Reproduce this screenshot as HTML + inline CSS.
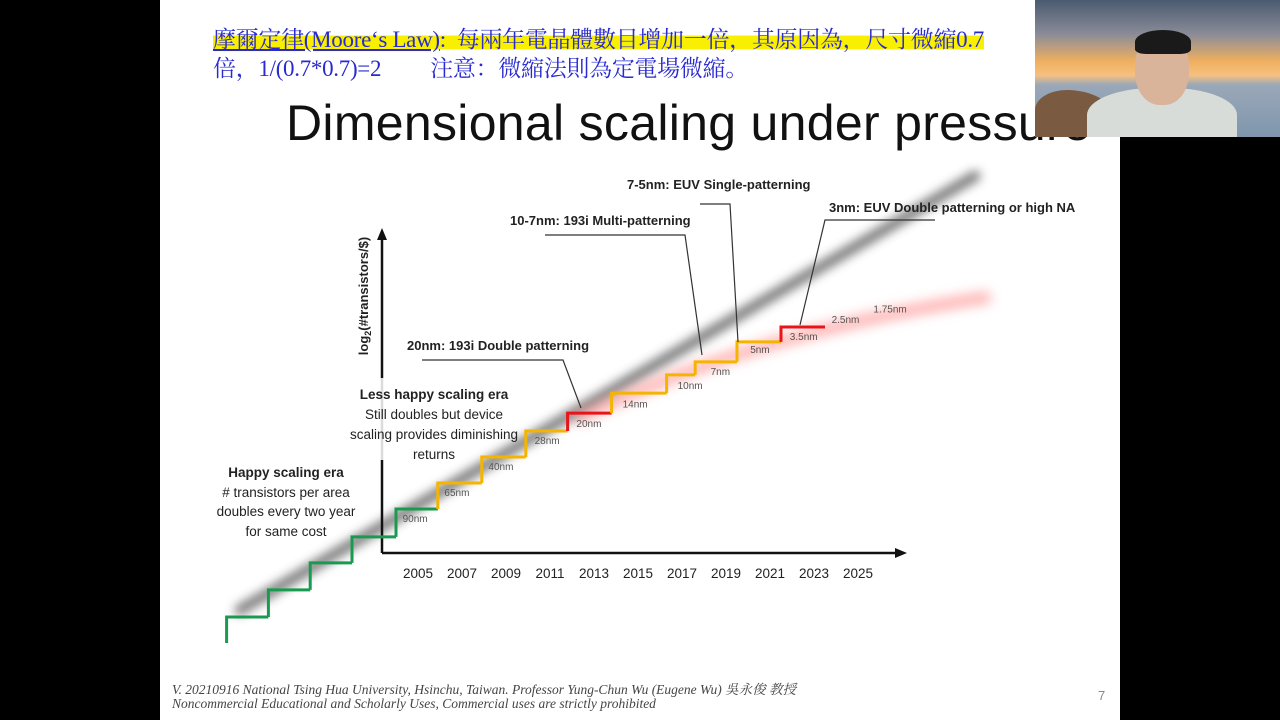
<!DOCTYPE html>
<html><head><meta charset="utf-8"><style>
body{margin:0;width:1280px;height:720px;background:#000;overflow:hidden;position:relative;font-family:"Liberation Sans",sans-serif}
#slide{position:absolute;left:160px;top:0;width:960px;height:720px;background:#fff}
.t{position:absolute;white-space:nowrap}
#top{left:213px;top:25px;font:23px "Liberation Serif","Noto Serif CJK SC","Noto Sans CJK TC",serif;color:#2a2ad0;line-height:29px;letter-spacing:-0.3px}
#title{left:286px;top:94px;font-size:50px;color:#111;letter-spacing:0.3px}
.foot{font:italic 13.5px "Liberation Serif","Noto Serif CJK SC",serif;color:#444;left:172px}
#cam{position:absolute;left:1035px;top:0;width:245px;height:137px;overflow:hidden;background:linear-gradient(#4a5a70 0%,#8a8c98 25%,#f0b060 45%,#f6c080 55%,#9aa8b8 62%,#7f96ad 100%)}
</style></head><body>
<div id="slide"></div>
<div class="t" id="top"><span style="background:linear-gradient(transparent 35%,#f8f000 35%,#f8f000 90%,transparent 90%)"><u>摩爾定律(Moore‘s Law)</u>:&nbsp; 每兩年電晶體數目增加一倍，其原因為，尺寸微縮0.7</span><br>倍，1/(0.7*0.7)=2 &nbsp;&nbsp;&nbsp;&nbsp;&nbsp;&nbsp;&nbsp; 注意：微縮法則為定電場微縮。</div>
<div class="t" id="title">Dimensional scaling under pressure</div>
<svg id="chart" width="1280" height="720" style="position:absolute;left:0;top:0">
<defs>
<filter id="b1" x="-20%" y="-20%" width="140%" height="140%"><feGaussianBlur stdDeviation="5"/></filter>
<filter id="b2" x="-20%" y="-50%" width="140%" height="200%"><feGaussianBlur stdDeviation="6"/></filter>
</defs>
<g id="bg"></g><g id="axes"></g><g id="marks"></g><g id="labels"></g>
</svg>
<div class="t foot" style="top:678px">V. 20210916 National Tsing Hua University, Hsinchu, Taiwan. Professor Yung-Chun Wu (Eugene Wu) 吳永俊 教授</div>
<div class="t foot" style="top:696px">Noncommercial Educational and Scholarly Uses, Commercial uses are strictly prohibited</div>
<div class="t" style="left:1098px;top:688px;font-size:13px;color:#888">7</div>
<div id="cam">
<div style="position:absolute;left:0;top:90px;width:80px;height:50px;background:#7a5a40;border-radius:40% 60% 0 0"></div>
<div style="position:absolute;left:52px;top:88px;width:150px;height:60px;background:#d8dcd8;border-radius:45% 45% 0 0"></div>
<div style="position:absolute;left:100px;top:33px;width:54px;height:72px;background:#d9b49a;border-radius:45%"></div>
<div style="position:absolute;left:100px;top:30px;width:56px;height:24px;background:#1a1a1a;border-radius:50% 50% 20% 20%"></div>
</div>
<script>
const NS="http://www.w3.org/2000/svg";
const years=["2005","2007","2009","2011","2013","2015","2017","2019","2021","2023","2025"];
const stepYears=[1996.3,1998.2,2000.1,2002.0,2004.0,2005.9,2007.9,2009.9,2011.8,2013.8,2016.3,2017.6,2019.5,2021.5,2023.5];
const stepLevels=[-2.46,-1.42,-0.38,0.62,1.69,2.69,3.69,4.69,5.38,6.15,6.85,7.35,8.12,8.69];
const stepColors=["g","g","g","g","g","o","o","o","r","o","o","o","o","r"];
const nodeNames=["90nm","65nm","40nm","28nm","20nm","14nm","10nm","7nm","5nm","3.5nm","2.5nm","1.75nm"];
const nodeYears=[2004.3,2006.2,2008.2,2010.3,2012.2,2014.3,2016.8,2018.3,2020.1,2021.9,2023.8,2025.7];
const nodeLevels=[1.2,2.2,3.2,4.2,4.85,5.6,6.3,6.85,7.7,8.2,8.85,9.25];
const X=y=>418+(y-2005)*22;
const Y=v=>553-v*26;
const col={g:"#1a9a50",o:"#f5b400",r:"#e8141a"};
function el(tag,attrs,parent){const e=document.createElementNS(NS,tag);for(const k in attrs)e.setAttribute(k,attrs[k]);parent.appendChild(e);return e;}
const bg=document.getElementById('bg'),ax=document.getElementById('axes'),mk=document.getElementById('marks'),lb=document.getElementById('labels');
let t1=el('line',{x1:240,y1:610,x2:975,y2:176,stroke:"#666",'stroke-width':11,filter:"url(#b1)",'stroke-linecap':"round",opacity:0.85},bg);


let t2=el('path',{d:"M575 420 Q760 330 990 297",stroke:"#ff8a8a",fill:"none",'stroke-width':11,filter:"url(#b2)",opacity:0.7},bg);


let ya=el('line',{x1:382,y1:553,x2:382,y2:236,stroke:"#111",'stroke-width':2.5},ax);


el('polygon',{points:"382,228 377,240 387,240",fill:"#111"},ax);
el('rect',{x:378,y:378,width:8,height:82,fill:"#fff",opacity:0.85},ax);
let xa=el('line',{x1:382,y1:553,x2:898,y2:553,stroke:"#111",'stroke-width':2.5},ax);


el('polygon',{points:"907,553 895,548 895,558",fill:"#111"},ax);
years.forEach(y=>{let t=el('text',{x:X(+y),y:578,'text-anchor':"middle",'font-size':13.5,fill:"#222"},ax);t.textContent=y;

});
let yl=el('text',{x:0,y:0,transform:"translate(368,296) rotate(-90)",'text-anchor':"middle",'font-size':13,'font-weight':"bold",fill:"#222"},ax);
yl.innerHTML='log<tspan font-size="9" dy="3">2</tspan><tspan dy="-3">(#transistors/$)</tspan>';


stepLevels.forEach((v,i)=>{
  const prev=i===0?v-1:stepLevels[i-1];
  const x0=X(stepYears[i]),x1=X(stepYears[i+1]);
  const p=el('path',{d:`M${x0} ${Y(prev)} V${Y(v)} H${x1}`,stroke:col[stepColors[i]],fill:"none",'stroke-width':3},mk);
  
  
});
nodeNames.forEach((n,i)=>{let t=el('text',{x:X(nodeYears[i]),y:Y(nodeLevels[i]),'font-size':10,fill:"#555"},lb);t.textContent=n;

});
const ann=[["20nm: 193i Double patterning",407,350,"M422 360 H563 L581 408"],["10-7nm: 193i Multi-patterning",510,225,"M545 235 H685 L702 355"],["7-5nm: EUV Single-patterning",627,189,"M700 204 H730 L738 342"],["3nm:  EUV Double patterning or high NA",829,212,"M935 220 H825 L800 325"]];
ann.forEach((a,i)=>{let t=el('text',{x:a[1],y:a[2],'font-size':13,'font-weight':"bold",fill:"#222"},lb);t.textContent=a[0];


let l=el('path',{d:a[3],stroke:"#333",fill:"none",'stroke-width':1.2},lb);

});
const era=[["Less happy scaling era",434,399,true],["Still doubles but device",434,419],["scaling provides diminishing",434,439],["returns",434,459],["Happy scaling era",286,477,true],["# transistors per area",286,497],["doubles every two year",286,516],["for same cost",286,536]];
era.forEach((e,i)=>{let t=el('text',{x:e[1],y:e[2],'text-anchor':"middle",'font-size':13.5,'font-weight':e[3]?"bold":"normal",fill:"#222"},lb);t.textContent=e[0];

});
</script>
</body></html>
